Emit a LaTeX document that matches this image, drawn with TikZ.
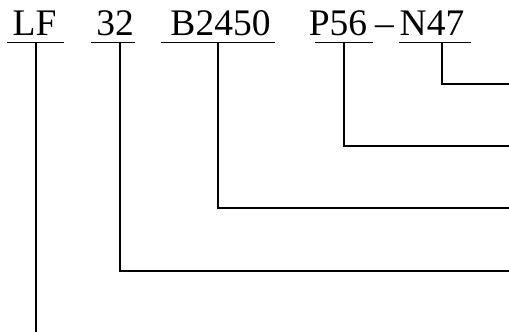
\documentclass[tikz,border=0pt]{standalone}
\usepackage{fontspec}
\setmainfont{Liberation Serif}

\begin{document}
\begin{tikzpicture}[x=1pt,y=1pt,line width=1.9pt,
    code/.style={anchor=base,inner sep=0pt,font=\fontsize{37.5}{40}\selectfont}]
\useasboundingbox (0,0) rectangle (509,-332);
% the parts of the designation
\node[code] (lf)   at (34.5,-35) {LF};
\node[code] (c32)  at (115,-35)  {32};
\node[code] (b)    at (220.5,-35) {B2450};
\node[code] (p)    at (338,-35)  {P56};
\node[code] (dash) at (384.5,-35) {--};
\node[code] (n)    at (432,-35)  {N47};
% underlines and leader lines
\foreach \n/\a/\b/\v/\x/\e in {lf/7/64/36/36/332,
                               c32/91/135/120/509/271,
                               b/161/275/218/509/208,
                               p/315/373/344/509/146,
                               n/399/471/442/509/84}
{
    \coordinate (\n-l) at (\a,-42.5);
    \coordinate (\n-r) at (\b,-42.5);
    \coordinate (\n-t) at (\v,-42.5);
    \coordinate (\n-e) at (\x,-\e);
    \draw (\n-l) -- (\n-r);
    \draw (\n-t) |- (\n-e);
}
\end{tikzpicture}
\end{document}
